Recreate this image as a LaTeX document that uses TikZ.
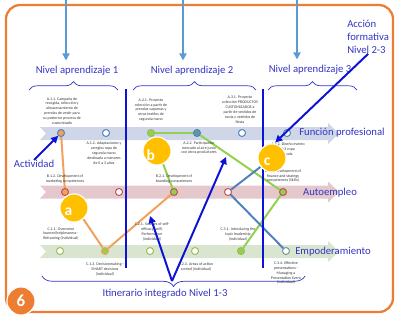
\documentclass[tikz,border=0pt]{standalone}
\usepackage{fontspec}
\setmainfont{Carlito}
\usetikzlibrary{arrows.meta,decorations.pathreplacing,backgrounds}
\definecolor{itframe}{RGB}{237,125,49}
\definecolor{itsky}{RGB}{91,155,213}
\definecolor{itlabel}{RGB}{52,52,196}
\definecolor{itblue}{RGB}{12,18,214}
\definecolor{ityellow}{RGB}{255,192,0}
\definecolor{itsteel}{RGB}{79,129,189}
\definecolor{itred}{RGB}{192,80,77}
\definecolor{itgreen}{RGB}{146,208,80}
\definecolor{itolive}{RGB}{155,187,89}
\definecolor{itpeach}{RGB}{242,160,92}
\definecolor{itbandA}{RGB}{207,214,232}
\definecolor{itbandB}{RGB}{228,200,204}
\definecolor{itbandC}{RGB}{218,229,207}
\tikzset{
  itdot/.style={circle, minimum size=5pt, inner sep=0pt, line width=0.7pt, fill=white},
  itdotA/.style={itdot, draw=itsteel},
  itdotB/.style={itdot, draw=itred},
  itdotC/.style={itdot, draw=itolive},
  itnote/.style={align=center, font=\fontsize{2.8}{3.5}\selectfont, text=black!80, inner sep=0pt},
  itlevel/.style={font=\fontsize{7.6}{9.2}\selectfont, text=itlabel, inner sep=0pt},
  itbadge/.style={circle, fill=ityellow, draw=white, line width=0.8pt, minimum size=20pt, inner sep=0pt},
  itletter/.style={font=\fontsize{11}{11}\selectfont\bfseries, text=white},
  itlink/.style={line width=1.4pt},
  itsep/.style={draw=itblue, line width=1.3pt},
  itarrow/.style={-{Triangle[length=5pt,width=5pt]}, draw=itblue, line width=1.4pt},
  ittop/.style={-{Triangle[length=5pt,width=5pt]}, draw=itsky, line width=1.6pt},
  itbrace/.style={decorate, decoration={brace,amplitude=6pt}, draw=itlabel, line width=0.5pt}
}

\begin{document}
\begin{tikzpicture}[x=0.025cm, y=-0.025cm]
  \useasboundingbox (0,0) rectangle (400,318);
  \draw[itframe, line width=1.6pt, rounded corners=10pt] (6,5) rectangle (393,312);

  % levels and braces
  \node[itlevel] (lv1) at (77,71) {Nivel aprendizaje 1};
  \node[itlevel] (lv2) at (192,71) {Nivel aprendizaje 2};
  \node[itlevel] (lv3) at (310,70) {Nivel aprendizaje 3};
  \coordinate (t1) at (66,0);
  \coordinate (t2) at (183,0);
  \coordinate (t3) at (297,0);
  \draw[ittop, shorten >=4pt] (t1) -- (t1 |- lv1.north);
  \draw[ittop, shorten >=4pt] (t2) -- (t2 |- lv2.north);
  \draw[ittop, shorten >=4pt] (t3) -- (t3 |- lv3.north);
  \draw[itbrace] (29,90) -- (118,90);
  \draw[itbrace] (133,90) -- (256,90);
  \draw[itbrace] (268,90) -- (357,90);

  % activities
  \node[itdotA, fill=itpeach] (a11) at (61,133) {};
  \node[itdotA] (a12) at (106,133) {};
  \node[itdotA, fill=itgreen, draw=itolive] (a21) at (151,133) {};
  \node[itdotA, fill=itsteel!70!itgreen] (a22) at (197,133) {};
  \node[itdotA] (a31) at (242,133) {};
  \node[itdotA] (a32) at (287,133) {};
  \node[itdotB, fill=itpeach] (b12) at (65,192) {};
  \node[itdotB] (b13) at (119,192) {};
  \node[itdotB, fill=itgreen] (b21) at (174,192) {};
  \node[itdotB] (b22) at (228,192) {};
  \node[itdotB, fill=itgreen] (b31) at (283,192) {};
  \node[itdotC] (c11) at (60,251) {};
  \node[itdotC, fill=itgreen, draw=itpeach] (c13) at (105,251) {};
  \node[itdotC] (c21) at (150,251) {};
  \node[itdotC] (c23) at (195,251) {};
  \node[itdotC, fill=itgreen] (c31) at (241,251) {};
  \node[itdotC, draw=itsteel!60!itolive] (c34) at (286,251) {};

  \node[itnote] (n11) at (62,111) {A.1.1. Campaña de\\recogida, selección y\\almacenamiento de\\prendas de vestir para\\su posterior proceso de\\customizado};
  \node[itnote] (n12) at (104,153) {A.1.2. Adaptaciones y\\arreglos ropa de\\segunda mano\\destinada a menores\\de 0 a 3 años};
  \node[itnote] (n21) at (151,110) {A.2.1. Proyecto\\colección a partir de\\prendas vaqueras y\\otros textiles de\\segunda mano};
  \node[itnote] (n22) at (199,148) {A.2.2. Participación\\mercado al aire junto\\con otros productores};
  \node[itnote] (n31) at (240,110) {A.3.1. Proyecto\\colección PRODUCTOS\\CUSTOMIZADOS a\\partir de vestidos de\\novia y vestidos de\\fiesta};
  \node[itnote] (n32) at (288,149) {A.3.2. Diseño evento\\0-3 ropa\\moda};
  \node[itnote] (m12) at (65,179) {B.1.2. Development of\\marketing competences};
  \node[itnote] (m21) at (174,179) {B.2.1. Development of\\branding competences};
  \node[itnote] (m31) at (283,176) {B.3.1. Development of\\finance and strategy\\competences (Skills)};
  \node[itnote] (k11) at (61,234) {C.1.1. Overcome\\learned helplessness -\\Reframing (individual)};
  \node[itnote] (k13) at (105,269) {C.1.3. Decisionmaking -\\SMART decisions\\(individual)};
  \node[itnote] (k21) at (152,232) {C.2.1. Sources of self-\\efficacy (self)\\Performance\\(individual)};
  \node[itnote] (k23) at (196,267) {C.2.3. Areas of action\\control (individual)};
  \node[itnote] (k31) at (238,234) {C.3.1. Introducing the\\topic leadership\\(individual)};
  \node[itnote] (k34) at (286,273) {C.3.4. Effective\\presentations -\\Managing a\\Presentation Event\\(individual)};

  \node[itlevel] (fp) at (342,133) {Función profesional};
  \node[itlevel] (ae) at (330,193) {Autoempleo};
  \node[itlevel] (em) at (333,252) {Empoderamiento};

  \draw[itsep] (126,89) -- (126,268);
  \draw[itsep] (263,89) -- (263,268);

  % itinerary badges
  \node[itbadge, label={[itletter, xshift=-4pt, yshift=-3pt]center:a}] (ba) at (74,208) {};
  \node[itbadge, label={[itletter, xshift=-4.5pt, yshift=-3pt]center:b}] (bb) at (157,151) {};
  \node[itbadge, label={[itletter, xshift=-3.5pt, yshift=-3pt]center:c}] (bc) at (272,158) {};
  \node[itbadge, fill=itframe, font=\fontsize{12}{12}\selectfont\bfseries, text=white] (six) at (21,301) {6};

  \begin{scope}[on background layer]
    \fill[itbandA] (40,127) -- (328,127) -- (328,123) -- (339,133.5) -- (328,144) -- (328,140) -- (40,140) -- (46,133.5) -- cycle;
    \fill[itbandB] (40,185.5) -- (328,185.5) -- (328,181.5) -- (339,192) -- (328,202.5) -- (328,198.5) -- (40,198.5) -- (46,192) -- cycle;
    \fill[itbandC] (40,245) -- (328,245) -- (328,241) -- (339,251.5) -- (328,262) -- (328,258) -- (40,258) -- (46,251.5) -- cycle;
    \draw[itlink, itpeach] (a11) -- (b12) -- (c13) -- (b21);
    \draw[itlink, itgreen] (b21) -- (a21) -- (a22) -- (b31) -- (c31);
    \draw[itlink, itsteel] (bc) -- (b22) -- (c34);
  \end{scope}

  % pointers
  \node[itlevel, align=left, anchor=north west] (acc) at (347,20) {Acción\\formativa\\Nivel 2-3};
  \draw[itarrow] (acc.south) -- ([xshift=3pt]n32.north west);
  \node[itlevel] (act) at (34,164) {Actividad};
  \draw[itarrow] (act.north) -- (a11);

  \draw[itbrace, decoration={mirror, amplitude=7.5pt}] (42,276) -- (305,276);
  \node[itlevel] (iti) at (165,294) {Itinerario integrado Nivel 1-3};
  \coordinate (vtip) at (172,281);
  \coordinate (v1) at (150,216);
  \coordinate (v2) at (226,157);
  \draw[itarrow] (vtip) -- (v1);
  \draw[itarrow] (vtip) -- (v2);
\end{tikzpicture}
\end{document}
